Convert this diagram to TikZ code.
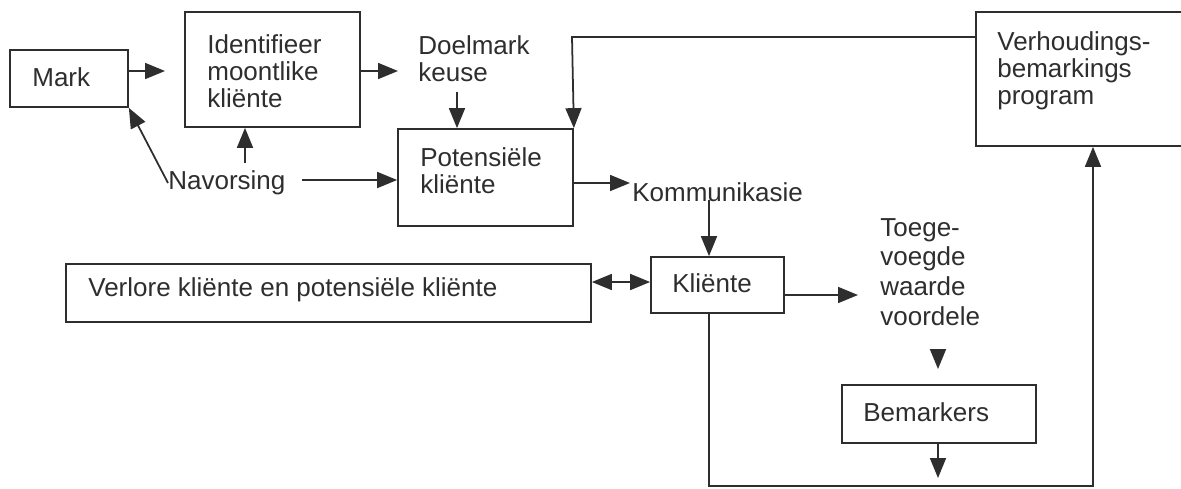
\documentclass[tikz,border=0pt]{standalone}
\usepackage{fontspec}
\setmainfont{Liberation Sans}
\usetikzlibrary{arrows.meta,calc}
\newdimen\pxu \pxu=0.02cm
\definecolor{ink}{HTML}{2E2E2E}
\tikzset{
  box/.style={draw=ink, line width=1pt, rectangle, inner sep=0pt},
  txt/.style={anchor=west, inner sep=0pt, align=left, text=ink,
    font=\fontsize{14.8pt}{15.4pt}\selectfont},
  arr/.style={draw=ink, line width=1pt,
    -{Triangle[length=0.4cm, width=0.32cm]}},
  dblarr/.style={draw=ink, line width=1pt,
    {Triangle[length=0.4cm, width=0.32cm]}-{Triangle[length=0.4cm, width=0.32cm]}},
  wire/.style={draw=ink, line width=1pt}
}
\begin{document}
\begin{tikzpicture}[x=0.02cm, y=-0.02cm]
\clip (0,0) rectangle (1181,488);
\fill[white] (0,0) rectangle (1181,488);

% boxes
\node[box, minimum width=118\pxu, minimum height=57\pxu]  (mark)  at (69,78.5)   {};
\node[box, minimum width=175\pxu, minimum height=115\pxu] (ident) at (272.5,69.5) {};
\node[box, minimum width=175\pxu, minimum height=97\pxu]  (pot)   at (485.5,177.5) {};
\node[box, minimum width=214\pxu, minimum height=134\pxu] (verh)  at (1083,79)   {};
\node[box, minimum width=525\pxu, minimum height=58\pxu]  (verl)  at (328.5,293) {};
\node[box, minimum width=133\pxu, minimum height=56\pxu]  (klie)  at (717.5,285) {};
\node[box, minimum width=194\pxu, minimum height=58\pxu]  (bem)   at (939,414)   {};

% labels
\node[txt] (markt)  at (32,77)     {Mark};
\node[txt] (identt) at (207,71.5)  {Identifieer\\moontlike\\kliënte};
\node[txt] (doelt)  at (418,59)    {Doelmark\\keuse};
\node[txt] (pott)   at (420,171)   {Potensiële\\kliënte};
\node[txt] (verht)  at (997,70.5)  {Verhoudings-\\bemarkings\\program};
\node[txt] (navt)   at (168,183)   {Navorsing};
\node[txt] (kommt)  at (632,192)   {Kommunikasie};
\node[txt] (verlt)  at (88,290)    {Verlore kliënte en potensiële kliënte};
\node[txt] (kliet)  at (672,283)   {Kliënte};
\node[txt] (bemt)   at (863,412)   {Bemarkers};
\node[txt, font=\fontsize{14.8pt}{17pt}\selectfont] (toeget) at (880,272)
  {Toege-\\voegde\\waarde\\voordele};

% free ends of connectors
\coordinate (markTip)  at (165,71);
\coordinate (identTip) at (398,71);
\coordinate (doelFoot) at (457,92);
\coordinate (navUp)    at (245,163);
\coordinate (navRight) at (302,180);
\coordinate (potTip)   at (630,183);
\coordinate (kommFoot) at (709,200);
\coordinate (klieTip)  at (858,295);
\coordinate (toegeHead) at (938,349);
\coordinate (toegeTip)  at (938,369);
\coordinate (bemTip)   at (938,478);
\coordinate (loopL)    at (709,486);
\coordinate (loopR)    at (1093,486);
\coordinate (feedTop)  at (572,37);
\coordinate (dblY)     at (0,282);

% connectors
\draw[arr] (mark.east |- markTip) -- (markTip);
\draw[arr] (ident.east |- identTip) -- (identTip);
\draw[arr] (doelFoot) -- (doelFoot |- pot.north);
\draw[arr] (navUp) -- (navUp |- ident.south);
\draw[arr] (navt.west) -- (mark.south east);
\draw[arr] (navRight) -- (pot.west |- navRight);
\draw[arr] (verh.west |- feedTop) -- (feedTop) -- (pot.north east);
\draw[arr] (pot.east |- potTip) -- (potTip);
\draw[arr] (kommFoot) -- (kommFoot |- klie.north);
\draw[dblarr] (verl.east |- dblY) -- (klie.west |- dblY);
\draw[arr] (klie.east |- klieTip) -- (klieTip);
\draw[arr] (toegeHead) -- (toegeTip);
\draw[arr] (bem.south -| bemTip) -- (bemTip);
\draw[arr] (klie.south -| loopL) -- (loopL) -- (loopR) -- (verh.south -| loopR);
\end{tikzpicture}
\end{document}
